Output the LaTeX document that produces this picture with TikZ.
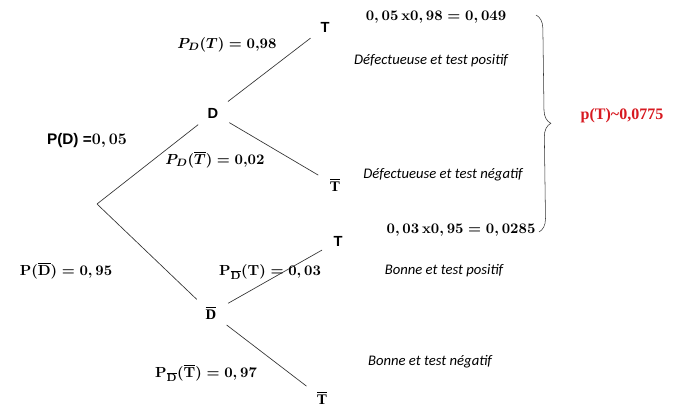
\documentclass[tikz,border=0pt]{standalone}
\usepackage{fontspec}
\setmainfont{Liberation Serif}
\setsansfont{Liberation Sans}
\newfontfamily\calibri{Carlito}
\usepackage{amsmath,amssymb}
\usetikzlibrary{decorations.pathreplacing}
\definecolor{rouge}{RGB}{215,25,32}
\tikzset{
  evt/.style={font=\sffamily\bfseries\fontsize{11}{13}\selectfont, circle, inner sep=6pt},
  proba/.style={font=\fontsize{11}{13}\selectfont\boldmath},
  issue/.style={font=\calibri\itshape\fontsize{11}{13}\selectfont},
  branche/.style={draw=black!80, line width=0.5pt}
}
\begin{document}
\begin{tikzpicture}[x=0.75pt,y=-0.75pt]
\useasboundingbox (0,0) rectangle (673,408);
% arbre
\coordinate (root) at (97,204);
\node[evt] (D) at (213,113) {D};
\node[evt] (Db) at (211,313) {$\overline{\mathbf{D}}$};
\node[evt] (T1) at (325,27) {T};
\node[evt] (Tb1) at (335,185) {$\overline{\mathbf{T}}$};
\node[evt] (T2) at (338,241) {T};
\node[evt] (Tb2) at (322,398) {$\overline{\mathbf{T}}$};
\draw[branche] (root) -- (D);
\draw[branche] (root) -- (Db);
\draw[branche] (D) -- (T1);
\draw[branche] (D) -- (Tb1);
\draw[branche] (Db) -- (T2);
\draw[branche] (Db) -- (Tb2);
% probabilites
\node[proba] (pdt) at (227,45) {$P_D(T)=0{,}98$};
\node[proba] (pd) at (87,141) {\sffamily\bfseries\fontsize{11.5}{13}\selectfont P(D) =$0,05$};
\node[proba] (pdtb) at (215,160) {$P_D(\overline{T})=0{,}02$};
\node[proba] (pdb) at (66,271) {$\mathbf{P(\overline{D})=0,95}$};
\node[proba] (pdbt) at (270,272) {$\mathbf{P_{\overline{D}}(T)=0,03}$};
\node[proba] (pdbtb) at (206,373) {$\mathbf{P_{\overline{D}}(\overline{T})=0,97}$};
% issues
\node[proba] (prod1) at (436,17) {$0,05\,\mathbf{x}0,98=0,049$};
\node[issue] (txt1) at (431,61) {Défectueuse et test positif};
\node[issue] (txt2) at (443,175) {Défectueuse et test négatif};
\node[proba] (prod2) at (461,230) {$0,03\,\mathbf{x}0,95=0,0285$};
\node[issue] (txt3) at (444,271) {Bonne et test positif};
\node[issue] (txt4) at (430,362) {Bonne et test négatif};
% total
\coordinate (bh) at (536,15);
\coordinate (bb) at (539,232);
\draw[black!80, decorate, decoration={brace, amplitude=10pt, aspect=0.5}] (bh) -- (bb);
\node[proba, text=rouge] (total) at (622,116) {\bfseries\fontsize{12}{14}\selectfont p(T)\textasciitilde 0,0775};
\end{tikzpicture}
\end{document}
